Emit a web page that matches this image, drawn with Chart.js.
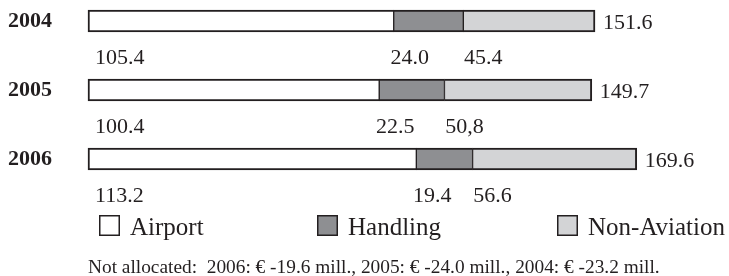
<!DOCTYPE html>
<html lang="en">
<head>
    <meta charset="UTF-8">
    <title>Revenue by segment 2004-2006</title>
    <script src="https://cdn.jsdelivr.net/npm/chart.js@4.4.1/dist/chart.umd.min.js"></script>
    <style>
        body { margin: 0; background: #fff; }
        canvas { display: block; }
    </style>
</head>
<body>
    <canvas id="segChart" width="729" height="276"></canvas>
    <script>
var years = ['2004', '2005', '2006'];
var airport = [105.4, 100.4, 113.2];
var handling = [24.0, 22.5, 19.4];
var nonAviation = [45.4, 50.8, 56.6];
var totals = [151.6, 149.7, 169.6];
// labels exactly as printed (2005 uses a comma)
var airportLabels = ['105.4', '100.4', '113.2'];
var handlingLabels = ['24.0', '22.5', '19.4'];
var nonAviationLabels = ['45.4', '50,8', '56.6'];
var seriesNames = ['Airport', 'Handling', 'Non-Aviation'];
var footnote = 'Not allocated:  2006: \u20ac -19.6 mill., 2005: \u20ac -24.0 mill., 2004: \u20ac -23.2 mill.';

var ink = '#231f20';
var serif = "'Liberation Serif', 'Times New Roman', serif";
var colors = ['#ffffff', '#8e8f92', '#d3d4d6'];

// labels under the bars, totals, legend and footnote
var textPlugin = {
    id: 'textPlugin',
    afterDatasetsDraw: function (chart) {
        var ctx = chart.ctx;
        var x = chart.scales.x;
        var y = chart.scales.y;
        ctx.save();
        ctx.fillStyle = ink;
        ctx.font = '22px ' + serif;
        ctx.textBaseline = 'alphabetic';
        years.forEach(function (yr, i) {
            var yc = y.getPixelForValue(i);
            var x0 = x.getPixelForValue(0);
            var xA = x.getPixelForValue(airport[i]);
            var xH = x.getPixelForValue(airport[i] + handling[i]);
            var xN = x.getPixelForValue(airport[i] + handling[i] + nonAviation[i]);
            ctx.textAlign = 'left';
            ctx.fillText(airportLabels[i], x0 + 7, yc + 43);
            ctx.textAlign = 'center';
            ctx.fillText(handlingLabels[i], xA + 16, yc + 43);
            ctx.fillText(nonAviationLabels[i], xH + 20, yc + 43);
            ctx.textAlign = 'left';
            ctx.fillText(totals[i].toFixed(1), xN + 8, yc + 8);
        });

        // legend
        var legendX = [99, 317, 557];
        ctx.font = '25px ' + serif;
        ctx.textAlign = 'left';
        seriesNames.forEach(function (name, i) {
            ctx.fillStyle = colors[i];
            ctx.fillRect(legendX[i], 215, 21, 21);
            ctx.strokeStyle = ink;
            ctx.lineWidth = 1.5;
            ctx.strokeRect(legendX[i] + 0.75, 215.75, 19.5, 19.5);
            ctx.fillStyle = ink;
            ctx.fillText(name, legendX[i] + 31, 235);
        });

        // footnote, fitted to its printed width
        ctx.font = '17px ' + serif;
        var w = ctx.measureText(footnote).width;
        var size = 17 * 572 / w;
        ctx.font = size.toFixed(2) + 'px ' + serif;
        ctx.fillText(footnote, 88, 273);
        ctx.restore();
    }
};

function ds(label, data, i, bw) {
    return {
        label: label,
        data: data,
        backgroundColor: colors[i],
        borderColor: ink,
        borderWidth: bw,
        borderSkipped: false,
        barThickness: 22,
        clip: false
    };
}

var ctx = document.getElementById('segChart').getContext('2d');
var segChart = new Chart(ctx, {
    type: 'bar',
    data: {
        labels: years,
        datasets: [
            ds('Airport', airport, 0, { top: 2, bottom: 2, left: 2, right: 1 }),
            ds('Handling', handling, 1, { top: 2, bottom: 2, left: 1, right: 1 }),
            ds('Non-Aviation', nonAviation, 2, { top: 2, bottom: 2, left: 1, right: 2 })
        ]
    },
    options: {
        indexAxis: 'y',
        responsive: false,
        animation: false,
        layout: { padding: { left: 8, right: 0, top: 21, bottom: 117 } },
        plugins: {
            legend: { display: false },
            tooltip: { enabled: false }
        },
        scales: {
            x: {
                display: false,
                stacked: true,
                min: 0,
                max: 221
            },
            y: {
                stacked: true,
                offset: false,
                grid: { display: false },
                border: { display: false },
                afterFit: function (axis) { axis.width = 80; },
                ticks: {
                    crossAlign: 'far',
                    color: ink,
                    font: { family: serif, size: 22, weight: 'bold' }
                }
            }
        }
    },
    plugins: [textPlugin]
});
    </script>
</body>
</html>
